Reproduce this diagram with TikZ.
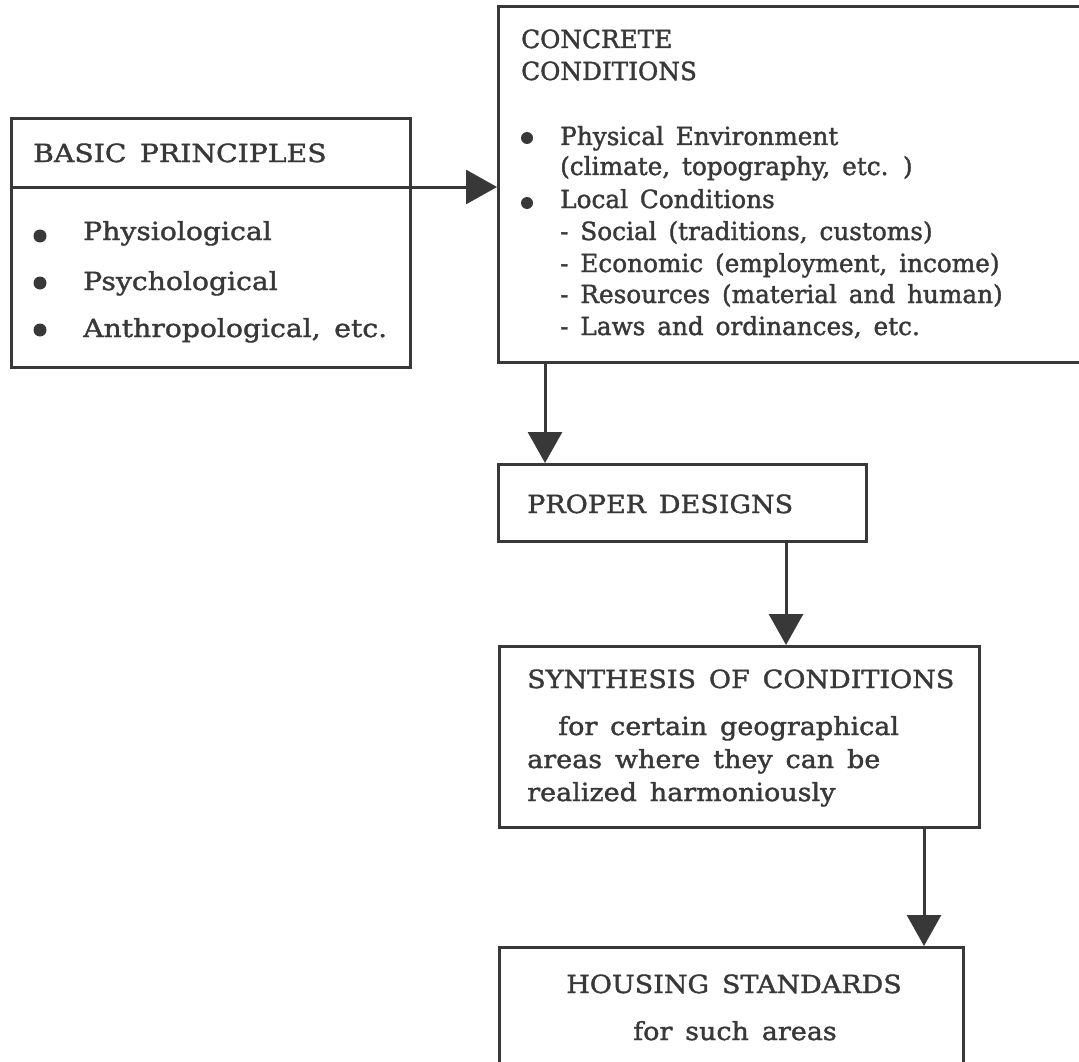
\documentclass[tikz,border=0pt]{standalone}
\usepackage{fontspec}
\setmainfont{DejaVu Serif}[WordSpace=1.5, FakeBold=1.5]
\usetikzlibrary{arrows.meta}
\definecolor{ink}{HTML}{383838}
\tikzset{
  box/.style={draw=ink, line width=3pt, rectangle, inner sep=0pt, anchor=north west},
  txt/.style={text=ink, anchor=base west, inner sep=0pt, font=\fontsize{25}{30}\selectfont\addfontfeature{FakeStretch=0.99}},
  txtw/.style={txt, font=\fontsize{25}{30}\selectfont\addfontfeature{FakeStretch=1.08}},
  txtb/.style={txt, font=\fontsize{25}{30}\selectfont\addfontfeature{FakeStretch=1.13}},
  arr/.style={draw=ink, line width=3pt, -{Triangle[length=31pt,width=34pt]}},
  dot/.style={fill=ink, draw=none}
}
\begin{document}
\begin{tikzpicture}[x=1pt,y=-1pt]
\useasboundingbox (0,0) rectangle (1079,1062);
\clip (0,0) rectangle (1079,1062);
% boxes
\node[box, minimum width=399pt, minimum height=249pt] (bp) at (10,117) {};
\node[box, minimum width=620pt, minimum height=356pt] (cc) at (497,5) {};
\node[box, minimum width=368pt, minimum height=77pt] (pd) at (497,463) {};
\node[box, minimum width=480pt, minimum height=181pt] (syn) at (498,645) {};
\node[box, minimum width=464pt, minimum height=200pt] (hs) at (498,946) {};
% divider
\coordinate (bpdiv) at (0,187);
\draw[draw=ink, line width=3pt] (bp.west |- bpdiv) -- (bp.east |- bpdiv);
% texts BP
\node[txtb] (t1) at (33,162) {BASIC PRINCIPLES};
\node[txtb] (t2) at (83,240) {Physiological};
\node[txtb] (t3) at (83,290) {Psychological};
\node[txtb] (t4) at (83,337) {Anthropological, etc.};
\fill[dot] (40,236) circle (6.5);
\fill[dot] (40,283) circle (6.5);
\fill[dot] (40,330) circle (6.5);
% texts CC
\node[txt] (c1) at (521,48) {CONCRETE};
\node[txt] (c2) at (521,80) {CONDITIONS};
\node[txt] (c3) at (560,145) {Physical Environment};
\node[txt] (c4) at (560,175) {(climate, topography, etc. )};
\node[txt] (c5) at (560,208) {Local Conditions};
\node[txt] (c6) at (560,240) {- Social (traditions, customs)};
\node[txt] (c7) at (560,272) {- Economic (employment, income)};
\node[txt] (c8) at (560,303) {- Resources (material and human)};
\node[txt] (c9) at (560,335) {- Laws and ordinances, etc.};
\fill[dot] (527,138) circle (6);
\fill[dot] (527,203) circle (6);
% PD
\node[txtw] (p1) at (527,513) {PROPER DESIGNS};
% SYN
\node[txtw] (s1) at (527,688) {SYNTHESIS OF CONDITIONS};
\node[txtw] (s2) at (558,735) {for certain geographical};
\node[txtw] (s3) at (527,768) {areas where they can be};
\node[txtw] (s4) at (527,801) {realized harmoniously};
% HS
\node[txtw, anchor=base] (h1) at (734,993) {HOUSING STANDARDS};
\node[txtw, anchor=base] (h2) at (735,1040) {for such areas};
% arrows
\coordinate (a1) at (545,0);
\coordinate (a2) at (786,0);
\coordinate (a3) at (924,0);
\draw[arr] (bp.east |- bpdiv) -- (cc.west |- bpdiv);
\draw[arr] (cc.south -| a1) -- (pd.north -| a1);
\draw[arr] (pd.south -| a2) -- (syn.north -| a2);
\draw[arr] (syn.south -| a3) -- (hs.north -| a3);
\end{tikzpicture}
\end{document}
